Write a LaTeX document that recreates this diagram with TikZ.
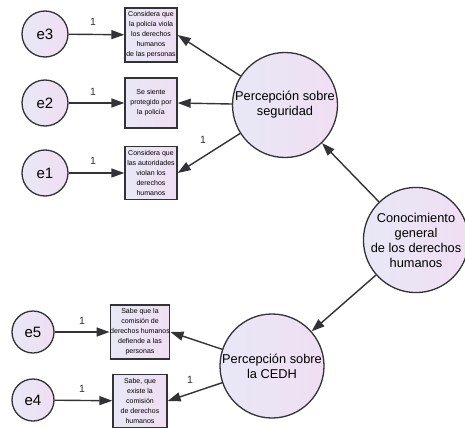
\documentclass[tikz,border=0pt]{standalone}
\usepackage{fontspec}
\setmainfont{Liberation Sans}
\usetikzlibrary{arrows.meta}
\definecolor{fillA}{RGB}{232,232,246}
\definecolor{fillB}{RGB}{240,222,242}
\definecolor{edge}{RGB}{50,50,55}
\tikzset{
  latent/.style={circle, draw=edge, line width=1.3pt, left color=fillA, right color=fillB, inner sep=0pt, align=center, font=\fontsize{12.8}{15}\selectfont},
  errnode/.style={circle, draw=edge, line width=1.3pt, left color=fillA, right color=fillB, inner sep=0pt, minimum size=46pt, font=\fontsize{15}{17}\selectfont},
  obs/.style={rectangle, draw=edge, line width=1.4pt, left color=fillA, right color=fillB, inner sep=0pt, align=center, font=\fontsize{7}{10}\selectfont},
  path/.style={draw=edge, line width=1.4pt, -{Triangle[length=13pt,width=9pt]}},
  lbl/.style={font=\fontsize{10.5}{12}\selectfont, text=edge}
}
\begin{document}
\begin{tikzpicture}[x=1pt,y=-1pt]
\useasboundingbox (0,0) rectangle (465,428);
% error terms
\node[errnode] (e3) at (45,34) {e3};
\node[errnode] (e2) at (45,103) {e2};
\node[errnode] (e1) at (45,173) {e1};
\node[errnode, minimum size=42pt] (e5) at (33,332) {e5};
\node[errnode, minimum size=42pt] (e4) at (33,400) {e4};
% observed
\node[obs, minimum width=52pt, minimum height=54pt] (b3) at (151,35) {Considera que\\la policía viola\\los derechos\\humanos\\de las personas};
\node[obs, minimum width=52pt, minimum height=50pt] (b2) at (151,103) {Se siente\\protegido por\\la policía};
\node[obs, minimum width=52pt, minimum height=53pt] (b1) at (151,173) {Considera que\\las autoridades\\violan los\\derechos\\humanos};
\node[obs, minimum width=54pt, minimum height=54pt] (b5) at (140,332) {Sabe que la\\comisión de\\derechos humanos\\defiende a las\\personas};
\node[obs, minimum width=54pt, minimum height=53pt] (b4) at (140,401) {Sabe, que\\existe la\\comisión\\de derechos\\humanos};
% latent
\node[latent, minimum size=105pt] (seg) at (285,105) {Percepción sobre\\seguridad};
\node[latent, minimum size=100pt] (con) at (416,240) {Conocimiento\\general\\de los derechos\\humanos};
\node[latent, minimum size=104pt] (cedh) at (272,366) {Percepción sobre\\la CEDH};
% paths
\draw[path] (e3) -- (b3);
\draw[path] (e2) -- (b2);
\draw[path] (e1) -- (b1);
\draw[path] (e5) -- (b5);
\draw[path] (e4) -- (b4);
\draw[path] (seg) -- (b3.east);
\draw[path] (seg) -- (b2.east);
\draw[path] (seg) -- (b1.east);
\draw[path] (cedh) -- (b5.east);
\draw[path] (cedh) -- (b4.east);
\draw[path] (con) -- (seg);
\draw[path] (con) -- (cedh);
% labels
\node[lbl] (l3) at (93,22) {1};
\node[lbl] (l2) at (93,92) {1};
\node[lbl] (l1) at (93,161) {1};
\node[lbl] (l1b) at (203,140) {1};
\node[lbl] (l5) at (82,321) {1};
\node[lbl] (l4) at (82,389) {1};
\node[lbl] (l4b) at (190,380) {1};
\end{tikzpicture}
\end{document}
